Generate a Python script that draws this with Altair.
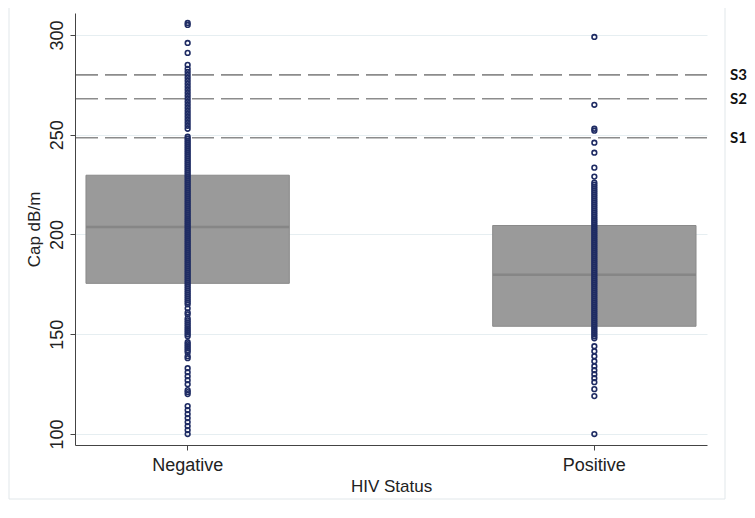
import altair as alt
import pandas as pd

categories = ["Negative", "Positive"]

neg_values = [
    306, 305, 296, 291,
    285, 283, 281.5, 280, 278.5, 277, 275.5, 274, 272.5, 271, 269.5, 268, 266.5,
    265, 263.5, 262, 260.5, 259, 257.5, 256, 254.5, 253,
    249, 248, 247, 246, 245, 244, 243, 242, 241, 240, 239, 238, 237, 236, 235,
    234, 233, 232, 231, 230, 229, 228, 227, 226, 225, 224, 223, 222, 221, 220,
    219, 218, 217, 216, 215, 214, 213, 212, 211, 210, 209, 208, 207, 206, 205,
    204, 203, 202, 201, 200, 199, 198, 197, 196, 195, 194, 193, 192, 191, 190,
    189, 188, 187, 186, 185, 184, 183, 182, 181, 180, 179, 178, 177, 176, 175,
    174, 173, 172, 171, 170, 169, 168, 167, 166, 165,
    163, 161, 160, 158, 157, 156, 155, 154, 153, 152, 151, 150, 149,
    146, 145, 144, 143, 142, 141, 139, 138,
    133, 131, 129, 127, 125, 122, 121, 120,
    114, 112, 110, 108, 106, 104, 102, 100,
]

pos_values = [
    299, 265, 253, 252, 246, 241, 233.5, 229,
    226, 225, 224, 223, 222, 221, 220, 219, 218, 217, 216, 215, 214, 213, 212,
    211, 210, 209, 208, 207, 206, 205, 204, 203, 202, 201, 200, 199, 198, 197,
    196, 195, 194, 193, 192, 191, 190, 189, 188, 187, 186, 185, 184, 183, 182,
    181, 180, 179, 178, 177, 176, 175, 174, 173, 172, 171, 170, 169, 168, 167,
    166, 165, 164, 163, 162, 161, 160, 159, 158, 157, 156, 155, 154, 153, 152,
    151, 150, 149, 148,
    144, 141.5, 139, 136.5, 134, 132, 130, 128, 126, 122.5, 119, 100,
]

box_q1 = [175.5, 154.0]
box_median = [203.7, 179.8]
box_q3 = [229.7, 204.5]

ref_values = [248.5, 268, 280]
ref_labels = ["S1", "S2", "S3"]

y_ticks = [100, 150, 200, 250, 300]

points = pd.DataFrame({
    "status": ["Negative"] * len(neg_values) + ["Positive"] * len(pos_values),
    "cap": neg_values + pos_values,
})
boxes = pd.DataFrame({"status": categories, "q1": box_q1,
                      "median": box_median, "q3": box_q3})
refs = pd.DataFrame({"value": ref_values, "label": ref_labels})

W, H = 632, 432
FONT = "Liberation Sans"

xscale = alt.Scale(domain=categories, paddingInner=0.5, paddingOuter=0.027)
yscale = alt.Scale(domain=[94.5, 311], nice=False, zero=False)

x_axis = alt.Axis(title="HIV Status", labelAngle=0, grid=False, tickSize=5,
                  labelPadding=6, titlePadding=4)
y_axis = alt.Axis(title="Cap dB/m", values=y_ticks, grid=True, tickSize=5,
                  labelAngle=270, labelAlign="center", labelBaseline="bottom",
                  labelPadding=4, titlePadding=5)

frame = alt.Chart(pd.DataFrame({"a": [0]})).mark_rect(
    fill="transparent", stroke="#e1e7ea", strokeWidth=1
).encode(x=alt.value(-66), x2=alt.value(W + 18), y=alt.value(-12), y2=alt.value(H + 54))

bars = alt.Chart(boxes).mark_bar(color="#9a9a9a", stroke="#8a8a8a", strokeWidth=1).encode(
    x=alt.X("status:N", scale=xscale, axis=x_axis, sort=categories),
    y=alt.Y("q1:Q", scale=yscale, axis=y_axis),
    y2="q3:Q",
)

medians = alt.Chart(boxes).mark_tick(
    orient="horizontal", size=203, thickness=2.5, color="#7d7d7d"
).encode(
    x=alt.X("status:N", scale=xscale, sort=categories),
    y=alt.Y("median:Q", scale=yscale),
)

rules = alt.Chart(refs).mark_rule(
    color="#8c8c8c", strokeWidth=1.6, strokeDash=[22, 7]
).encode(y=alt.Y("value:Q", scale=yscale))

labels = alt.Chart(refs).mark_text(
    align="left", baseline="middle", font="Lato", fontWeight="bold",
    fontSize=15, color="#111111"
).encode(
    y=alt.Y("value:Q", scale=yscale),
    x=alt.value(W + 23),
    text="label:N",
)

dots = alt.Chart(points).mark_point(
    shape="circle", filled=False, size=22, strokeWidth=1.6,
    color="#1e2b63", opacity=1
).encode(
    x=alt.X("status:N", scale=xscale, sort=categories),
    y=alt.Y("cap:Q", scale=yscale),
)

chart = alt.layer(frame, bars, medians, rules, dots, labels).properties(
    width=W, height=H,
    autosize=alt.AutoSizeParams(type="none"),
    padding={"left": 67, "top": 5, "right": 40, "bottom": 55},
    background="white",
).configure_view(stroke=None).configure_axis(
    labelFont=FONT, titleFont=FONT, labelFontSize=18, titleFontSize=17,
    labelColor="#222222", titleColor="#222222", titleFontWeight="normal",
    domainColor="#444444", tickColor="#444444", domainWidth=1, tickWidth=1,
    gridColor="#e6eef1", gridWidth=1,
)

chart.save("out.html", embed_options={"renderer": "svg", "actions": False})
